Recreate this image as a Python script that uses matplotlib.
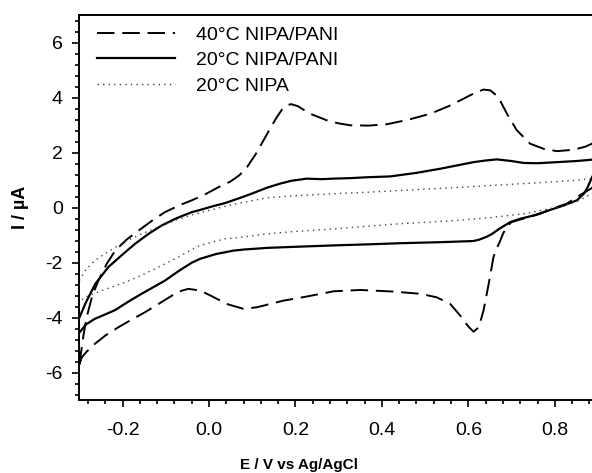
import matplotlib
matplotlib.use('Agg')
import matplotlib.pyplot as plt
from matplotlib.ticker import MultipleLocator

plt.rcParams['font.family'] = ['Liberation Sans', 'DejaVu Sans']

# 40°C NIPA/PANI, anodic then cathodic sweep
e40_fwd = [-0.300, -0.290, -0.283, -0.270, -0.256, -0.237, -0.217, -0.190, -0.163, -0.130,
           -0.102, -0.070, -0.040, -0.010, 0.022, 0.049, 0.070, 0.088, 0.108, 0.126,
           0.142, 0.157, 0.170, 0.180, 0.190, 0.205, 0.234, 0.273, 0.300, 0.327,
           0.370, 0.412, 0.460, 0.512, 0.555, 0.589, 0.615, 0.635, 0.651, 0.664,
           0.674, 0.690, 0.712, 0.743, 0.775, 0.805, 0.843, 0.870, 0.886, 0.900]
i40_fwd = [-5.70, -4.60, -3.98, -3.20, -2.65, -2.05, -1.56, -1.15, -0.83, -0.45,
           -0.16, 0.08, 0.27, 0.48, 0.75, 0.95, 1.18, 1.48, 1.95, 2.45,
           2.90, 3.30, 3.60, 3.73, 3.77, 3.70, 3.42, 3.18, 3.07, 3.00,
           2.99, 3.04, 3.20, 3.42, 3.70, 3.97, 4.18, 4.30, 4.27, 4.10,
           3.88, 3.40, 2.82, 2.33, 2.14, 2.06, 2.11, 2.22, 2.33, 2.50]
e40_rev = [0.900, 0.886, 0.851, 0.828, 0.800, 0.766, 0.730, 0.700, 0.689, 0.680,
           0.674, 0.665, 0.658, 0.647, 0.635, 0.624, 0.612, 0.600, 0.590, 0.581,
           0.558, 0.527, 0.489, 0.427, 0.350, 0.288, 0.226, 0.172, 0.111, 0.080,
           0.041, 0.003, -0.021, -0.048, -0.070, -0.086, -0.117, -0.148, -0.180, -0.210,
           -0.240, -0.264, -0.284, -0.294, -0.300]
i40_rev = [1.00, 0.72, 0.39, 0.15, 0.00, -0.22, -0.38, -0.52, -0.68, -0.95,
           -1.19, -1.50, -1.80, -2.77, -3.74, -4.35, -4.51, -4.32, -4.12, -3.92,
           -3.50, -3.26, -3.13, -3.05, -2.99, -3.04, -3.23, -3.38, -3.62, -3.68,
           -3.50, -3.19, -3.01, -2.95, -3.05, -3.20, -3.50, -3.80, -4.08, -4.35,
           -4.65, -4.95, -5.25, -5.44, -5.70]

# 20°C NIPA/PANI
e20_fwd = [-0.300, -0.285, -0.263, -0.233, -0.200, -0.171, -0.140, -0.109, -0.075, -0.040,
           -0.021, 0.010, 0.037, 0.072, 0.100, 0.134, 0.165, 0.190, 0.226, 0.260,
           0.288, 0.330, 0.365, 0.419, 0.480, 0.535, 0.580, 0.612, 0.640, 0.666,
           0.700, 0.728, 0.760, 0.805, 0.850, 0.886, 0.900]
i20_fwd = [-4.00, -3.45, -2.77, -2.16, -1.70, -1.31, -0.95, -0.64, -0.38, -0.16,
           -0.08, 0.06, 0.17, 0.36, 0.52, 0.73, 0.88, 0.98, 1.06, 1.04,
           1.06, 1.08, 1.11, 1.14, 1.27, 1.42, 1.56, 1.66, 1.72, 1.76,
           1.70, 1.63, 1.62, 1.66, 1.70, 1.75, 1.77]
e20_rev = [0.900, 0.886, 0.876, 0.867, 0.851, 0.820, 0.785, 0.751, 0.720, 0.697,
           0.670, 0.655, 0.643, 0.625, 0.612, 0.540, 0.442, 0.370, 0.288, 0.200,
           0.134, 0.080, 0.056, 0.037, 0.017, -0.021, -0.040, -0.070, -0.102, -0.130,
           -0.156, -0.185, -0.217, -0.240, -0.264, -0.285, -0.300]
i20_rev = [1.50, 1.11, 0.75, 0.51, 0.27, 0.08, -0.10, -0.28, -0.40, -0.52,
           -0.78, -0.95, -1.05, -1.16, -1.21, -1.25, -1.29, -1.33, -1.37, -1.42,
           -1.46, -1.52, -1.56, -1.62, -1.68, -1.86, -2.00, -2.30, -2.65, -2.90,
           -3.13, -3.40, -3.72, -3.88, -4.04, -4.25, -4.55]

# 20°C NIPA
enp_fwd = [-0.300, -0.285, -0.264, -0.240, -0.217, -0.190, -0.156, -0.117, -0.078, -0.040,
           -0.001, 0.037, 0.080, 0.134, 0.200, 0.288, 0.360, 0.442, 0.540, 0.651,
           0.760, 0.840, 0.886, 0.900]
inp_fwd = [-2.65, -2.25, -1.92, -1.66, -1.44, -1.20, -0.95, -0.70, -0.46, -0.26,
           -0.10, 0.05, 0.20, 0.36, 0.44, 0.51, 0.56, 0.63, 0.71, 0.81,
           0.91, 0.99, 1.06, 1.10]
enp_rev = [0.900, 0.886, 0.850, 0.805, 0.728, 0.650, 0.574, 0.500, 0.442, 0.360,
           0.288, 0.200, 0.134, 0.060, 0.037, -0.021, -0.040, -0.078, -0.117, -0.155,
           -0.194, -0.248, -0.287, -0.300]
inp_rev = [0.80, 0.51, 0.22, 0.02, -0.22, -0.36, -0.46, -0.53, -0.58, -0.68,
           -0.77, -0.86, -0.95, -1.10, -1.13, -1.37, -1.52, -1.85, -2.16, -2.45,
           -2.71, -3.01, -3.26, -3.44]

fig = plt.figure(figsize=(5.92, 4.73), dpi=100)
ax = fig.add_axes([0.134, 0.154, 0.866, 0.8135])

ax.plot(e40_fwd + e40_rev, i40_fwd + i40_rev, color='black', lw=1.4,
        dashes=(9, 4), label='40°C NIPA/PANI')
ax.plot(e20_fwd + e20_rev, i20_fwd + i20_rev, color='black', lw=1.6,
        label='20°C NIPA/PANI')
ax.plot(enp_fwd + enp_rev, inp_fwd + inp_rev, color='#444444', lw=1.0,
        dashes=(1, 3), label='20°C NIPA')

ax.set_xlim(-0.3, 0.886)
ax.set_ylim(-7, 7)
ax.xaxis.set_minor_locator(MultipleLocator(0.04))
ax.yaxis.set_minor_locator(MultipleLocator(0.4))
ax.set_xticks([-0.2, 0.0, 0.2, 0.4, 0.6, 0.8])
ax.set_xticklabels(['-0.2', '0.0', '0.2', '0.4', '0.6', '0.8'])
ax.set_yticks([-6, -4, -2, 0, 2, 4, 6])
ax.set_yticklabels(['-6', '-4', '-2', '0', '2', '4', '6'])

ax.tick_params(which='both', direction='out', width=1.2, labelsize=14)
ax.tick_params(which='major', length=5)
ax.tick_params(which='minor', length=3)
ax.tick_params(axis='x', pad=11)
ax.tick_params(axis='y', pad=7)
ax.spines['right'].set_visible(False)
for s in ['left', 'bottom', 'top']:
    ax.spines[s].set_linewidth(1.4)

ax.set_xlabel('E / V vs Ag/AgCl', fontsize=11, fontweight='bold')
ax.set_ylabel('I / µA', fontsize=13, fontweight='bold')
ax.xaxis.set_label_coords(0.4285, -0.150)
ax.yaxis.set_label_coords(-0.099, 0.5)

ax.legend(loc='upper left', bbox_to_anchor=(0.0345, 0.972), frameon=False,
          fontsize=14, handlelength=4.0, handletextpad=1.08, labelspacing=0.4,
          borderpad=0, borderaxespad=0)

fig.savefig('out.png', dpi=100)
